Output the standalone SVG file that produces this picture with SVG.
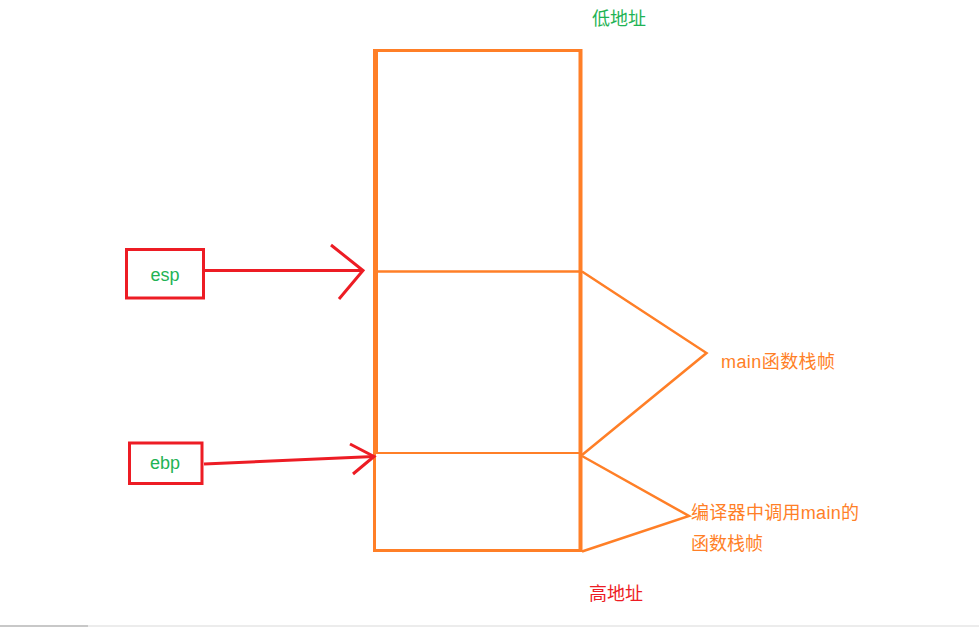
<svg xmlns="http://www.w3.org/2000/svg" width="979" height="627" viewBox="0 0 979 627">
<style>
.or{stroke:#ff7f27;fill:none;stroke-linecap:butt}
.rd{stroke:#ed1c24;fill:none;stroke-width:3}
.t{font-family:"Liberation Sans","Noto Sans CJK SC",sans-serif;font-size:18px}
.g{fill:#1fb355}
.o{fill:#ff7f27}
.r{fill:#ed1c24}
</style>
<rect width="979" height="627" fill="#ffffff"/>
<g id="stack">
<line class="or" x1="375.5" y1="49" x2="375.5" y2="453" stroke-width="5"/>
<line class="or" x1="374.5" y1="453" x2="374.5" y2="552" stroke-width="3"/>
<line class="or" x1="373" y1="50.5" x2="582" y2="50.5" stroke-width="3"/>
<line class="or" x1="580.5" y1="49" x2="580.5" y2="552" stroke-width="4"/>
<line class="or" x1="373" y1="550.5" x2="582" y2="550.5" stroke-width="3"/>
<line class="or" x1="377" y1="271.5" x2="579" y2="271.5" stroke-width="2.5"/>
<line class="or" x1="376" y1="453" x2="579" y2="453" stroke-width="2"/>
</g>
<g id="label-low"><text class="t g" x="592" y="25">低地址</text></g>
<g id="label-high"><text class="t r" x="589" y="600">高地址</text></g>
<g id="esp">
<rect class="rd" x="126.5" y="249.5" width="77" height="48.5"/>
<text class="t g" x="165" y="281" text-anchor="middle" font-size="19">esp</text>
</g>
<g id="ebp">
<rect class="rd" x="129.5" y="443" width="72.5" height="40.5"/>
<text class="t g" x="165" y="469" text-anchor="middle" font-size="19">ebp</text>
</g>
<g id="main-frame">
<polyline class="or" points="582,271.5 706.5,353 582,455" stroke-width="2.5"/>
<text class="t o" x="721" y="368" textLength="114">main函数栈帧</text>
</g>
<g id="caller-frame">
<polyline class="or" points="582,456 689,516 582,551.5" stroke-width="2.5"/>
<text class="t o" x="691" y="519" textLength="168">编译器中调用main的</text>
<text class="t o" x="691" y="550">函数栈帧</text>
</g>
<g id="connectors">
<line class="rd" x1="205" y1="270.5" x2="363" y2="270.5"/>
<polyline class="rd" points="331,245 363,270.5 339,299"/>
<line class="rd" x1="204" y1="464" x2="374" y2="456.5"/>
<polyline class="rd" points="350,444 374,456.5 353,474"/>
</g>
<g id="scrollbar">
<rect x="0" y="625" width="979" height="2" fill="#ececec"/>
<rect x="0" y="625" width="88" height="2" fill="#c8c8c8"/>
</g>
</svg>
